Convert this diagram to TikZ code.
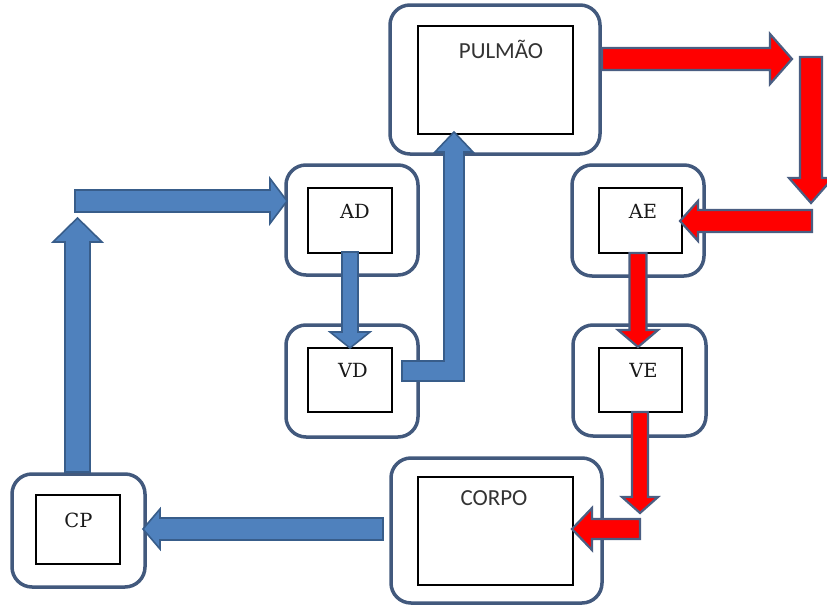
\documentclass[tikz,border=0pt]{standalone}
\usepackage{fontspec}
\setmainfont{DejaVu Serif}
\newfontfamily\calib{Carlito}
\definecolor{boxedge}{HTML}{42597D}
\definecolor{bluefill}{HTML}{4F81BD}
\definecolor{blueedge}{HTML}{385D8A}
\definecolor{redfill}{HTML}{FF0000}
\definecolor{rededge}{HTML}{4A5E82}
\tikzset{
 outerbox/.style={draw=boxedge, line width=3.5pt, rounded corners=20pt, fill=white, inner sep=0pt},
 innerbox/.style={draw=black, line width=1.1pt, fill=white, inner sep=0pt},
 serlabel/.style={font=\fontsize{19.5}{19.5}\selectfont, anchor=base, inner sep=0pt, text=black!90},
 sanslabel/.style={font=\calib\fontsize{23}{23}\selectfont, anchor=base, inner sep=0pt, text=black!80},
 bluearrow/.style={fill=bluefill, draw=blueedge, line width=1.6pt, line join=miter},
 redarrow/.style={fill=redfill, draw=rededge, line width=2.2pt, line join=miter},
}
% horizontal block arrow: style, x start, x head base, x tip, y, shaft half, head half
\newcommand\harrow[7]{\draw[#1] ({#2},{#5-#6}) -- ({#3},{#5-#6}) -- ({#3},{#5-#7}) -- ({#4},{#5}) -- ({#3},{#5+#7}) -- ({#3},{#5+#6}) -- ({#2},{#5+#6}) -- cycle;}
% vertical block arrow: style, y start, y head base, y tip, x, shaft half, head half
\newcommand\varrow[7]{\draw[#1] ({#5-#6},{#2}) -- ({#5-#6},{#3}) -- ({#5-#7},{#3}) -- ({#5},{#4}) -- ({#5+#7},{#3}) -- ({#5+#6},{#3}) -- ({#5+#6},{#2}) -- cycle;}
\begin{document}
\begin{tikzpicture}[x=1pt,y=-1pt]
\useasboundingbox (0,0) rectangle (827,605);
% outer boxes
\node[outerbox, minimum width=210pt, minimum height=149pt] (oPUL) at (495,79.5) {};
\node[outerbox, minimum width=132pt, minimum height=110pt] (oAD) at (352,220) {};
\node[outerbox, minimum width=132pt, minimum height=112pt] (oVD) at (352,381) {};
\node[outerbox, minimum width=132pt, minimum height=111pt] (oAE) at (638,220.5) {};
\node[outerbox, minimum width=133pt, minimum height=111pt] (oVE) at (639.5,380.5) {};
\node[outerbox, minimum width=211pt, minimum height=145pt] (oCOR) at (496.5,530.5) {};
\node[outerbox, minimum width=133pt, minimum height=113pt] (oCP) at (78.5,530.5) {};
% inner boxes
\node[innerbox, minimum width=155pt, minimum height=108pt] (iPUL) at (495.5,80) {};
\node[innerbox, minimum width=84pt, minimum height=65pt] (iAD) at (350,220.5) {};
\node[innerbox, minimum width=84pt, minimum height=64pt] (iVD) at (350,380) {};
\node[innerbox, minimum width=83pt, minimum height=65pt] (iAE) at (640.5,220.5) {};
\node[innerbox, minimum width=83pt, minimum height=64pt] (iVE) at (640.5,380) {};
\node[innerbox, minimum width=155pt, minimum height=108pt] (iCOR) at (495.5,531) {};
\node[innerbox, minimum width=84pt, minimum height=69pt] (iCP) at (78,529.5) {};
% labels
\node[sanslabel] (tPUL) at (501,58) {PULMÃO};
\node[sanslabel] (tCOR) at (494,505) {CORPO};
\node[serlabel] (tAD) at (355,218) {AD};
\node[serlabel] (tVD) at (353,377) {VD};
\node[serlabel] (tAE) at (643,218) {AE};
\node[serlabel] (tVE) at (643.5,377) {VE};
\node[serlabel] (tCP) at (78.5,527) {CP};
% blue arrows
\harrow{bluearrow}{383}{160}{143}{529}{11}{20}
\varrow{bluearrow}{472}{242}{218}{77.5}{12.5}{24.5}
\harrow{bluearrow}{75}{270}{287}{201}{11}{22.5}
\varrow{bluearrow}{252}{332}{348}{350}{8}{20}
\draw[bluearrow] (402,361) -- (444,361) -- (444,152) -- (435,152) -- (454,132) -- (473,152) -- (464,152) -- (464,381) -- (402,381) -- cycle;
% red arrows
\harrow{redarrow}{602}{770}{792}{59}{11}{25}
\varrow{redarrow}{57}{178}{203}{811}{11}{22}
\harrow{redarrow}{812}{698}{680}{221}{11}{20}
\varrow{redarrow}{253}{330}{347}{638}{8.5}{20}
\varrow{redarrow}{412}{497}{513}{640}{8}{18}
\harrow{redarrow}{640}{592}{572}{529}{10}{21}
\end{tikzpicture}
\end{document}
